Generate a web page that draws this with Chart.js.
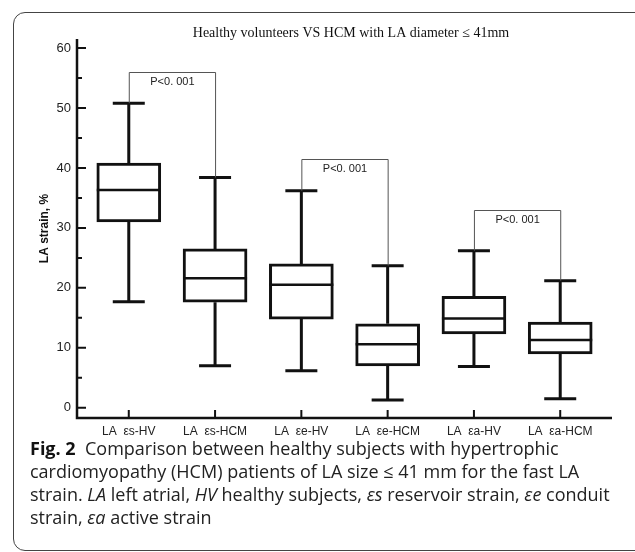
<!DOCTYPE html>
<html>
<head>
<meta charset="utf-8">
<script src="https://cdn.jsdelivr.net/npm/chart.js@4.4.0/dist/chart.umd.min.js"></script>
<style>
    html, body { margin: 0; padding: 0; background: #fff; }
    body { width: 635px; height: 552px; overflow: hidden; position: relative; }
    .frame {
        position: absolute; left: 13px; top: 12px; width: 640px; height: 537px;
        border: 1.3px solid #444; border-radius: 12px;
    }
    #chartWrap { position: absolute; left: 0; top: 0; width: 635px; height: 445px; }
    .caption {
        position: absolute; left: 30px; top: 437px; width: 600px;
        font-family: "Open Sans", sans-serif; font-size: 18px; line-height: 23px; color: #222;
        white-space: nowrap;
    }
    .caption b { font-weight: 700; color: #111; }
</style>
</head>
<body>
<div class="frame"></div>
<div id="chartWrap"><canvas id="boxChart"></canvas></div>
<div class="caption">
    <b>Fig. 2</b>&nbsp; Comparison between healthy subjects with hypertrophic<br>
    cardiomyopathy (HCM) patients of LA size ≤ 41 mm for the fast LA<br>
    strain. <i>LA</i> left atrial, <i>HV</i> healthy subjects, <i>εs</i> reservoir strain, <i>εe</i> conduit<br>
    strain, <i>εa</i> active strain
</div>
<script>
const categories = ['LA  εs-HV', 'LA  εs-HCM', 'LA  εe-HV', 'LA  εe-HCM', 'LA  εa-HV', 'LA  εa-HCM'];
const whiskerMin = [17.7, 7.0, 6.2, 1.3, 6.9, 1.5];
const q1 = [31.0, 17.6, 14.8, 7.0, 12.3, 9.0];
const median = [36.3, 21.6, 20.5, 10.6, 14.9, 11.3];
const q3 = [40.8, 26.5, 24.0, 14.0, 18.6, 14.3];
const whiskerMax = [50.8, 38.4, 36.2, 23.7, 26.2, 21.2];

const bracketFrom = [0, 2, 4];
const bracketTo = [1, 3, 5];
const bracketTop = [56, 41.5, 33];
const bracketText = ['P<0. 001', 'P<0. 001', 'P<0. 001'];

const yTicks = [0, 5, 10, 15, 20, 25, 30, 35, 40, 45, 50, 55, 60];
const chartTitle = 'Healthy volunteers VS HCM with LA diameter ≤ 41mm';

const boxPlugin = {
    id: 'boxPlugin',
    afterDatasetsDraw(chart) {
        const ctx = chart.ctx;
        const x = chart.scales.x;
        const y = chart.scales.y;
        const area = chart.chartArea;
        const bars = chart.getDatasetMeta(0).data;

        ctx.save();
        ctx.strokeStyle = '#111';
        ctx.lineCap = 'butt';

        // whiskers, caps and medians
        categories.forEach((c, i) => {
            const cx = x.getPixelForValue(i);
            const half = bars[i].width / 2;
            ctx.lineWidth = 3;
            ctx.beginPath();
            ctx.moveTo(cx, y.getPixelForValue(q3[i]));
            ctx.lineTo(cx, y.getPixelForValue(whiskerMax[i]));
            ctx.moveTo(cx, y.getPixelForValue(q1[i]));
            ctx.lineTo(cx, y.getPixelForValue(whiskerMin[i]));
            ctx.moveTo(cx - half / 2, y.getPixelForValue(whiskerMax[i]));
            ctx.lineTo(cx + half / 2, y.getPixelForValue(whiskerMax[i]));
            ctx.moveTo(cx - half / 2, y.getPixelForValue(whiskerMin[i]));
            ctx.lineTo(cx + half / 2, y.getPixelForValue(whiskerMin[i]));
            ctx.stroke();
            ctx.lineWidth = 2.5;
            ctx.beginPath();
            ctx.moveTo(cx - half, y.getPixelForValue(median[i]));
            ctx.lineTo(cx + half, y.getPixelForValue(median[i]));
            ctx.stroke();
        });

        // significance brackets
        ctx.strokeStyle = '#555';
        ctx.lineWidth = 1;
        ctx.fillStyle = '#222';
        ctx.font = '11px "Liberation Sans", Arial, sans-serif';
        ctx.textAlign = 'center';
        ctx.textBaseline = 'top';
        bracketFrom.forEach((a, k) => {
            const b = bracketTo[k];
            const xa = x.getPixelForValue(a) + 0.5;
            const xb = x.getPixelForValue(b) + 0.5;
            const yt = Math.round(y.getPixelForValue(bracketTop[k])) + 0.5;
            ctx.beginPath();
            ctx.moveTo(xa, y.getPixelForValue(whiskerMax[a]));
            ctx.lineTo(xa, yt);
            ctx.lineTo(xb, yt);
            ctx.lineTo(xb, y.getPixelForValue(whiskerMax[b]));
            ctx.stroke();
            ctx.fillText(bracketText[k], (xa + xb) / 2, yt + 4);
        });

        // axes with inward ticks
        ctx.strokeStyle = '#111';
        ctx.lineWidth = 2.5;
        ctx.beginPath();
        ctx.moveTo(area.left, area.top);
        ctx.lineTo(area.left, area.bottom);
        ctx.lineTo(area.right, area.bottom);
        ctx.stroke();
        ctx.lineWidth = 2;
        ctx.beginPath();
        yTicks.forEach(v => {
            const py = y.getPixelForValue(v);
            ctx.moveTo(area.left, py);
            ctx.lineTo(area.left + (v % 10 === 0 ? 9 : 5), py);
        });
        categories.forEach((c, i) => {
            const px = x.getPixelForValue(i);
            ctx.moveTo(px, area.bottom);
            ctx.lineTo(px, area.bottom - 8);
        });
        ctx.stroke();

        // chart title
        ctx.fillStyle = '#111';
        ctx.font = '14px "Liberation Serif", "Times New Roman", serif';
        ctx.textBaseline = 'middle';
        ctx.fillText(chartTitle, 351, 33);
        ctx.restore();
    }
};

const ctx = document.getElementById('boxChart').getContext('2d');
new Chart(ctx, {
    type: 'bar',
    data: {
        datasets: [{
            data: categories.map((c, i) => ({ x: i, y: [q1[i], q3[i]] })),
            backgroundColor: '#fff',
            borderColor: '#111',
            borderWidth: 3,
            borderSkipped: false,
            barThickness: 64
        }]
    },
    options: {
        responsive: true,
        maintainAspectRatio: false,
        animation: false,
        layout: { padding: { left: 0, right: 23, top: 39, bottom: 0 } },
        plugins: {
            legend: { display: false },
            tooltip: { enabled: false }
        },
        scales: {
            x: {
                type: 'linear',
                min: -0.6,
                max: 5.6,
                offset: false,
                grid: { display: false, drawTicks: false },
                border: { display: false },
                afterBuildTicks: scale => {
                    scale.ticks = categories.map((c, i) => ({ value: i }));
                },
                afterFit: scale => { scale.height = 27; },
                ticks: {
                    autoSkip: false,
                    maxRotation: 0,
                    padding: 6,
                    color: '#222',
                    font: { family: '"Liberation Sans", Arial, sans-serif', size: 12 },
                    callback: v => categories[v]
                }
            },
            y: {
                min: -1.7,
                max: 61.5,
                grid: { display: false, drawTicks: false },
                border: { display: false },
                afterBuildTicks: scale => {
                    scale.ticks = yTicks.map(v => ({ value: v }));
                },
                afterFit: scale => { scale.width = 77; },
                ticks: {
                    padding: 6,
                    color: '#222',
                    font: { family: '"Liberation Sans", Arial, sans-serif', size: 13 },
                    callback: v => (v % 10 === 0 ? String(v) : '')
                },
                title: {
                    display: true,
                    text: 'LA strain, %',
                    color: '#111',
                    padding: { top: 37, bottom: 0 },
                    font: { family: '"Liberation Sans", Arial, sans-serif', size: 12, weight: 'bold' }
                }
            }
        }
    },
    plugins: [boxPlugin]
});
</script>
</body>
</html>
